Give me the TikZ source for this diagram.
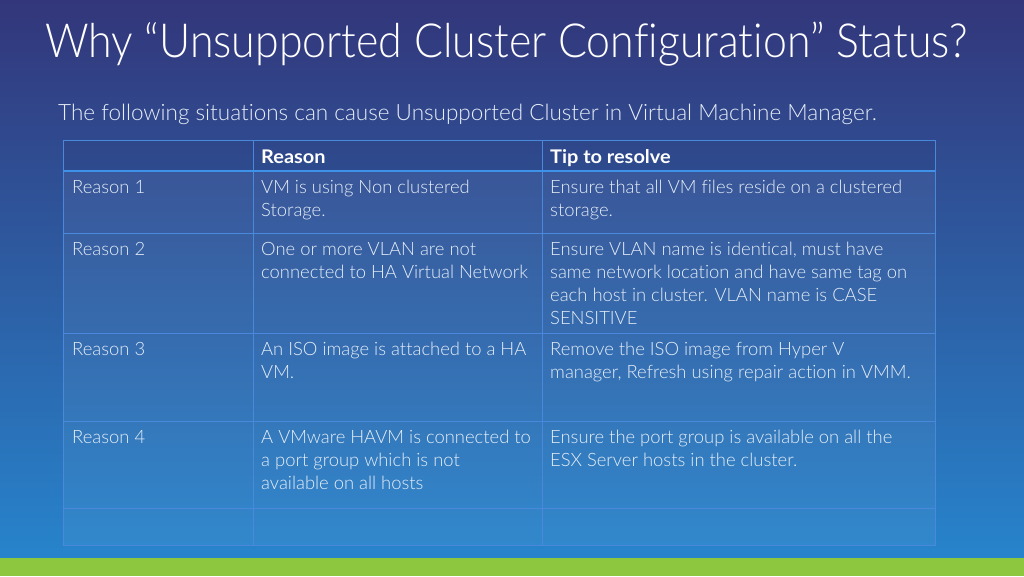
\documentclass[tikz,border=0pt]{standalone}
\usepackage{fontspec}
\setmainfont{Lato Light}[BoldFont={Lato Bold},Ligatures=NoCommon]
\newfontfamily\titlefont{Lato Light}[FakeStretch=0.912,Ligatures=NoCommon]
\newfontfamily\headfont{Lato Bold}[FakeStretch=1.06,Ligatures=NoCommon]
\begin{document}
\begin{tikzpicture}[x=1pt,y=-1pt,
  cell/.style={anchor=base west,inner sep=0pt,text=txt,align=left,font=\fontsize{18.4}{23}\selectfont},
  head/.style={anchor=base west,inner sep=0pt,text=white,font=\headfont\fontsize{18.8}{23}\selectfont},
  grid/.style={draw=gridc,line width=1pt},
]
\definecolor{bgtop}{HTML}{33367A}
\definecolor{bgmid}{HTML}{2C5CA8}
\definecolor{bgbot}{HTML}{2784CC}
\definecolor{gridc}{HTML}{4A88DC}
\definecolor{gridb}{HTML}{3E92E8}
\definecolor{txt}{HTML}{E6EEF8}
\definecolor{barg}{HTML}{8DC63F}
\useasboundingbox (0,0) rectangle (1024,576);
\shade[top color=bgtop,middle color=bgmid,bottom color=bgbot] (0,0) rectangle (1024,558);
\fill[barg] (0,558) rectangle (1024,576);
% title
\node[anchor=base west,inner sep=0pt,text=white,font=\titlefont\fontsize{47}{56}\selectfont] (title) at (45,57) {Why “Unsupported Cluster Configuration” Status?};
\node[anchor=base west,inner sep=0pt,text=txt,font=\fontsize{22.5}{26}\selectfont] (sub) at (58,120) {The following situations can cause Unsupported Cluster in Virtual Machine Manager.};
% table fill
\fill[white,opacity=0.05] (63,171) rectangle (935,545);
\fill[black,opacity=0.03] (63,140) rectangle (935,171);
% grid
\draw[grid] (63,140) rectangle (935,545);
\foreach \yy in {233,333,421,508} \draw[grid] (63,\yy) -- (935,\yy);
\draw[grid] (253,140) -- (253,545);
\draw[grid] (542,140) -- (542,545);
\draw[draw=gridb,line width=2pt] (63,171) -- (935,171);
% header
\node[head] (h1) at (261,163) {Reason};
\node[head] (h2) at (550,163) {Tip to resolve};
% rows (anchor = baseline of last line)
\node[cell] (r1a) at (72,193) {Reason 1};
\node[cell] (r1b) at (261,216) {VM is using Non clustered\\Storage.};
\node[cell] (r1c) at (550,216) {Ensure that all VM files reside on a clustered\\storage.};
\node[cell] (r2a) at (72,255) {Reason 2};
\node[cell] (r2b) at (261,278) {One or more VLAN are not\\connected to HA Virtual Network};
\node[cell] (r2c) at (550,324) {Ensure VLAN name is identical, must have\\same network location and have same tag on\\each host in cluster. VLAN name is CASE\\SENSITIVE};
\node[cell] (r3a) at (72,355) {Reason 3};
\node[cell] (r3b) at (261,378) {An ISO image is attached to a HA\\VM.};
\node[cell] (r3c) at (550,378) {Remove the ISO image from Hyper V\\manager, Refresh using repair action in VMM.};
\node[cell] (r4a) at (72,443) {Reason 4};
\node[cell] (r4b) at (261,489) {A VMware HAVM is connected to\\a port group which is not\\available on all hosts};
\node[cell] (r4c) at (550,466) {Ensure the port group is available on all the\\ESX Server hosts in the cluster.};
\end{tikzpicture}
\end{document}
